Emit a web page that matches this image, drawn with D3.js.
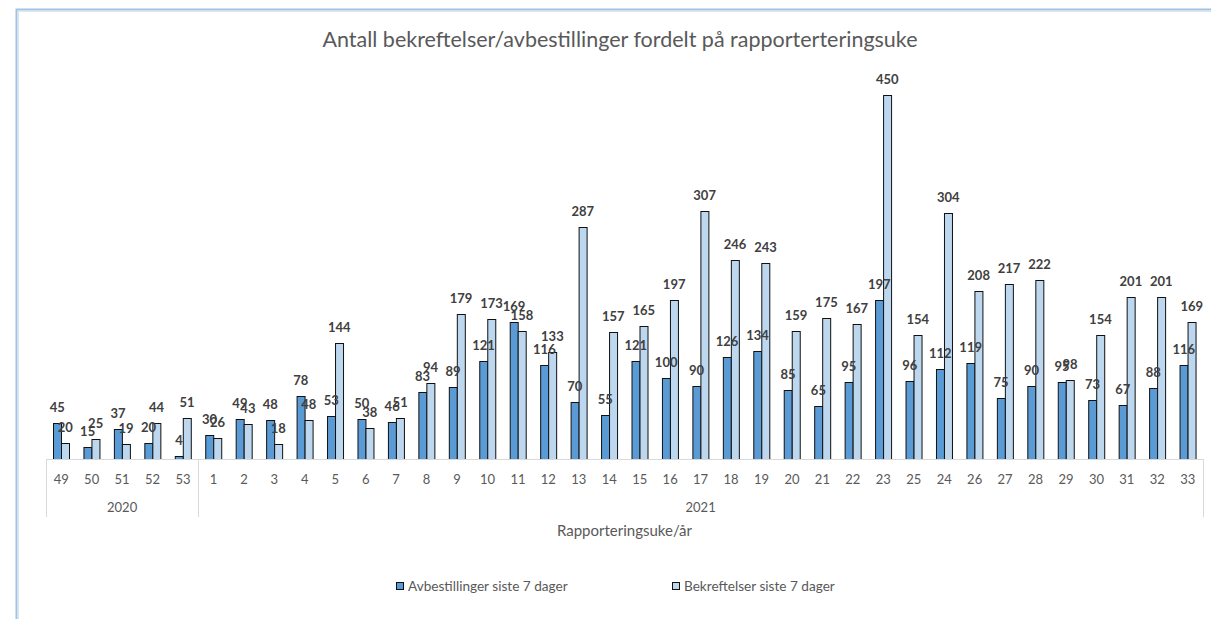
<!DOCTYPE html>
<html>
<head>
<meta charset="utf-8">
<script src="https://cdn.jsdelivr.net/npm/d3@7"></script>
<style>
  body { margin: 0; background: #fff; }
  svg { display: block; font-family: Lato, "Open Sans", sans-serif; }
</style>
</head>
<body>
<div id="chart"></div>
<script>
// weeks in the order the report lists them (note 25 before 24)
const weeks = ["49", "50", "51", "52", "53",
  "1", "2", "3", "4", "5", "6", "7", "8", "9", "10", "11", "12", "13", "14", "15", "16",
  "17", "18", "19", "20", "21", "22", "23", "25", "24", "26", "27", "28", "29", "30",
  "31", "32", "33"];
const yearNames = ["2020", "2021"];
const weeksPerYear = [5, 33];

const avbestillinger = [45, 15, 37, 20, 4,
  30, 49, 48, 78, 53, 50, 46, 83, 89, 121, 169, 116, 70, 55, 121, 100,
  90, 126, 134, 85, 65, 95, 197, 96, 112, 119, 75, 90, 95, 73,
  67, 88, 116];
const bekreftelser = [20, 25, 19, 44, 51,
  26, 43, 18, 48, 144, 38, 51, 94, 179, 173, 158, 133, 287, 157, 165, 197,
  307, 246, 243, 159, 175, 167, 450, 154, 304, 208, 217, 222, 98, 154,
  201, 201, 169];

const seriesNames = ["Avbestillinger siste 7 dager", "Bekreftelser siste 7 dager"];
const seriesColors = ["#5B9BD5", "#BDD7EE"];

const W = 1211, H = 619;
const plot = { left: 46, right: 1203, bottom: 459 };

const svg = d3.select("#chart").append("svg")
  .attr("width", W).attr("height", H);

// chart frame (only the top and left edges are visible in the crop)
svg.append("path")
  .attr("d", `M16.5,${H} V9.5 H${W}`)
  .attr("fill", "none").attr("stroke", "#9DC3E6").attr("stroke-width", 2);
svg.append("path")
  .attr("d", `M18.5,${H} V11.5 H${W}`)
  .attr("fill", "none").attr("stroke", "#e4e4e4").attr("stroke-width", 1);

svg.append("text")
  .attr("x", 620).attr("y", 47)
  .attr("text-anchor", "middle")
  .attr("font-size", 21.5).attr("fill", "#595959")
  .text("Antall bekreftelser/avbestillinger fordelt på rapporterteringsuke");

const x = d3.scaleBand().domain(weeks).range([plot.left, plot.right]).padding(0);
const bw = x.bandwidth();
const xInner = d3.scaleBand().domain([0, 1]).range([bw / 2 - 8, bw / 2 + 8]);
const y = d3.scaleLinear().domain([0, 500]).range([plot.bottom, 55]);

const rows = weeks.map((w, i) => ({ week: w, vals: [avbestillinger[i], bekreftelser[i]] }));

const groups = svg.append("g").selectAll("g.week")
  .data(rows).join("g")
  .attr("class", "week")
  .attr("transform", d => `translate(${x(d.week)},0)`);

groups.selectAll("rect")
  .data(d => d.vals.map((v, s) => ({ v, s })))
  .join("rect")
  .attr("x", d => Math.round(xInner(d.s)) + 0.5)
  .attr("y", d => Math.round(y(d.v)) + 0.5)
  .attr("width", xInner.bandwidth())
  .attr("height", d => Math.round(y(0)) - Math.round(y(d.v)))
  .attr("fill", d => seriesColors[d.s])
  .attr("stroke", "#111").attr("stroke-width", 1);

// axis line and group separators
const axisG = svg.append("g").attr("stroke", "#d9d9d9").attr("stroke-width", 1);
axisG.append("line")
  .attr("x1", plot.left).attr("x2", plot.right)
  .attr("y1", plot.bottom + 0.5).attr("y2", plot.bottom + 0.5);

let start = 0;
const yearSpans = yearNames.map((name, i) => {
  const s = { name, x0: x(weeks[start]), x1: x(weeks[start + weeksPerYear[i] - 1]) + bw };
  start += weeksPerYear[i];
  return s;
});
const seps = [yearSpans[0].x0, ...yearSpans.map(s => s.x1)];
axisG.selectAll("line.sep").data(seps).join("line")
  .attr("class", "sep")
  .attr("x1", d => Math.round(d) + 0.5).attr("x2", d => Math.round(d) + 0.5)
  .attr("y1", plot.bottom).attr("y2", 517);

svg.append("g").selectAll("text")
  .data(weeks).join("text")
  .attr("x", d => x(d) + bw / 2).attr("y", 484)
  .attr("text-anchor", "middle").attr("font-size", 13).attr("fill", "#595959")
  .text(d => d);

svg.append("g").selectAll("text")
  .data(yearSpans).join("text")
  .attr("x", d => (d.x0 + d.x1) / 2).attr("y", 512)
  .attr("text-anchor", "middle").attr("font-size", 13).attr("fill", "#595959")
  .text(d => d.name);

svg.append("text")
  .attr("x", (plot.left + plot.right) / 2).attr("y", 536)
  .attr("text-anchor", "middle").attr("font-size", 15).attr("fill", "#595959")
  .text("Rapporteringsuke/år");

// data labels
groups.selectAll("text")
  .data(d => d.vals.map((v, s) => ({ v, s })))
  .join("text")
  .attr("x", d => xInner(d.s) + xInner.bandwidth() / 2)
  .attr("y", d => y(d.v) - 11)
  .attr("text-anchor", "middle")
  .attr("font-size", 13).attr("font-weight", 700).attr("fill", "#404040")
  .text(d => d.v);

// legend
const legendX = [396, 672];
const legend = svg.append("g").selectAll("g")
  .data(seriesNames).join("g")
  .attr("transform", (d, i) => `translate(${legendX[i]},582)`);
legend.append("rect")
  .attr("x", 0.5).attr("y", 0.5).attr("width", 7).attr("height", 7)
  .attr("fill", (d, i) => seriesColors[i]).attr("stroke", "#111");
legend.append("text")
  .attr("x", 12).attr("y", 8.5)
  .attr("font-size", 13.6).attr("fill", "#595959")
  .text(d => d);
</script>
</body>
</html>
